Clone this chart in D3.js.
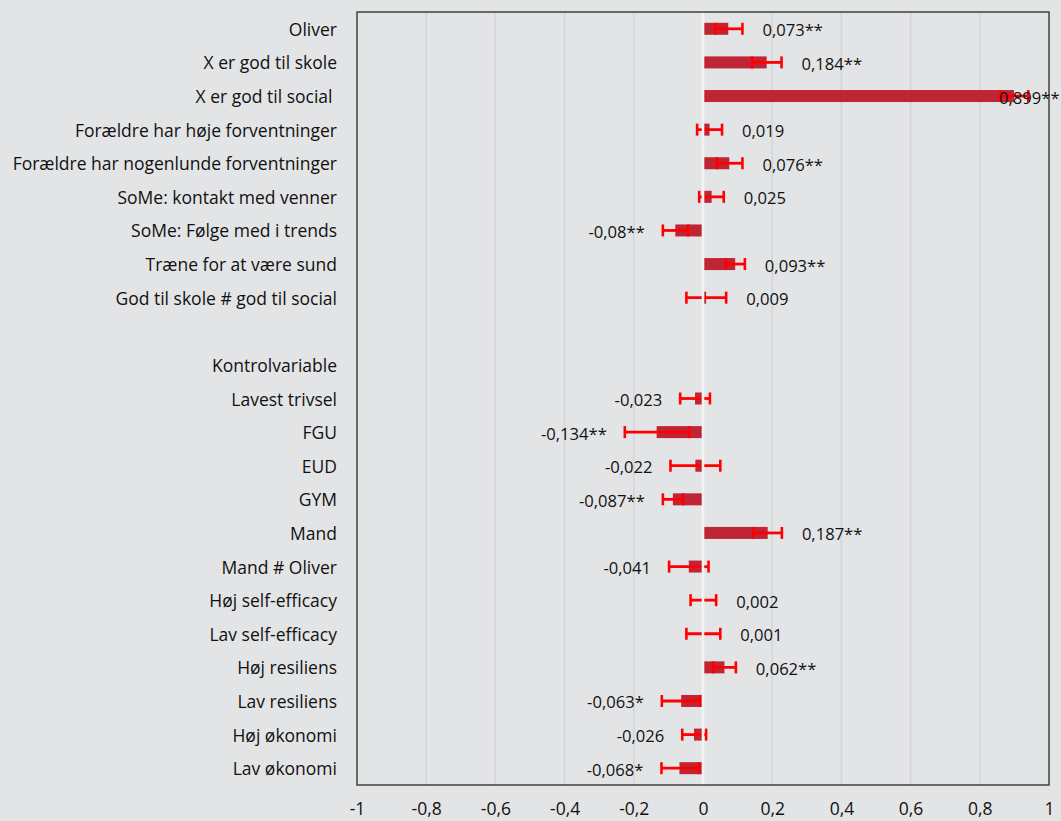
<!DOCTYPE html>
<html>
<head>
<meta charset="utf-8">
<script src="https://cdn.jsdelivr.net/npm/d3@7/dist/d3.min.js"></script>
<style>
  html, body { margin: 0; padding: 0; background: #E3E4E6; }
  svg { display: block; }
  text { font-family: "Open Sans", "Noto Sans", sans-serif; }
</style>
</head>
<body>
<svg id="chart" width="1061" height="821"></svg>
<script>
// Row labels (blank row and section header have no estimate)
const categories = [
  "Oliver",
  "X er god til skole",
  "X er god til social ",
  "Forældre har høje forventninger",
  "Forældre har nogenlunde forventninger",
  "SoMe: kontakt med venner",
  "SoMe: Følge med i trends",
  "Træne for at være sund",
  "God til skole # god til social",
  "",
  "Kontrolvariable",
  "Lavest trivsel",
  "FGU",
  "EUD",
  "GYM",
  "Mand",
  "Mand # Oliver",
  "Høj self-efficacy",
  "Lav self-efficacy",
  "Høj resiliens",
  "Lav resiliens",
  "Høj økonomi",
  "Lav økonomi"
];

// Point estimates
const coef = [0.073, 0.184, 0.899, 0.019, 0.076, 0.025, -0.08, 0.093, 0.009,
  null, null,
  -0.023, -0.134, -0.022, -0.087, 0.187, -0.041, 0.002, 0.001, 0.062, -0.063, -0.026, -0.068];

// Confidence interval bounds
const ciLow = [0.036, 0.142, 0.858, -0.017, 0.040, -0.011, -0.116, 0.066, -0.048,
  null, null,
  -0.066, -0.226, -0.094, -0.116, 0.145, -0.098, -0.036, -0.048, 0.029, -0.119, -0.060, -0.120];
const ciHigh = [0.114, 0.227, 0.940, 0.055, 0.114, 0.060, -0.043, 0.121, 0.067,
  null, null,
  0.020, -0.040, 0.050, -0.057, 0.228, 0.016, 0.038, 0.050, 0.095, -0.008, 0.009, -0.012];

// Significance markers
const stars = ["**", "**", "**", "", "**", "", "**", "**", "",
  "", "",
  "", "**", "", "**", "**", "", "", "", "**", "*", "", "*"];

// Axis ticks
const tickValues = [-1, -0.8, -0.6, -0.4, -0.2, 0, 0.2, 0.4, 0.6, 0.8, 1];

const rows = categories.map((c, i) => ({
  name: c, value: coef[i], lo: ciLow[i], hi: ciHigh[i], star: stars[i]
}));

const plot = { left: 357, right: 1049, top: 12, bottom: 785 };

const svg = d3.select("#chart");

const x = d3.scaleLinear().domain([-1, 1]).range([plot.left, plot.right]);
const y = d3.scaleBand().domain(d3.range(categories.length))
  .range([plot.top, plot.bottom]).paddingInner(0).paddingOuter(0);
const yc = i => y(i) + y.bandwidth() / 2;

const fmt = v => String(v).replace(".", ",");

// Vertical gridlines
svg.append("g").selectAll("line")
  .data(tickValues.filter(t => t !== -1 && t !== 1 && t !== 0))
  .join("line")
  .attr("x1", d => x(d)).attr("x2", d => x(d))
  .attr("y1", plot.top).attr("y2", plot.bottom)
  .attr("stroke", "#D3D4D6").attr("stroke-width", 1.5);

const data = rows.map((r, i) => ({ ...r, i })).filter(r => r.value !== null);

const barH = 12;

// Coefficient bars
svg.append("g").selectAll("rect")
  .data(data)
  .join("rect")
  .attr("x", d => Math.min(x(0), x(d.value)))
  .attr("width", d => Math.abs(x(d.value) - x(0)))
  .attr("y", d => yc(d.i) - barH / 2)
  .attr("height", barH)
  .attr("fill", "#BF1E2E")
  .attr("fill-opacity", 0.97);

// Error bars
const eb = svg.append("g").attr("stroke", "#FF0000");
eb.selectAll("line.whisker")
  .data(data)
  .join("line")
  .attr("class", "whisker")
  .attr("x1", d => x(d.lo)).attr("x2", d => x(d.hi))
  .attr("y1", d => yc(d.i)).attr("y2", d => yc(d.i))
  .attr("stroke-width", 2.8);
eb.selectAll("line.capl")
  .data(data)
  .join("line")
  .attr("class", "capl")
  .attr("x1", d => x(d.lo)).attr("x2", d => x(d.lo))
  .attr("y1", d => yc(d.i) - barH / 2).attr("y2", d => yc(d.i) + barH / 2)
  .attr("stroke-width", 2.6);
eb.selectAll("line.caph")
  .data(data)
  .join("line")
  .attr("class", "caph")
  .attr("x1", d => x(d.hi)).attr("x2", d => x(d.hi))
  .attr("y1", d => yc(d.i) - barH / 2).attr("y2", d => yc(d.i) + barH / 2)
  .attr("stroke-width", 2.6);

// Zero line
svg.append("line")
  .attr("x1", x(0)).attr("x2", x(0))
  .attr("y1", plot.top).attr("y2", plot.bottom)
  .attr("stroke", "#F3F3F4").attr("stroke-width", 2.6);

// Plot frame
svg.append("rect")
  .attr("x", plot.left).attr("y", plot.top)
  .attr("width", plot.right - plot.left).attr("height", plot.bottom - plot.top)
  .attr("fill", "none").attr("stroke", "#404040").attr("stroke-width", 1.5);

// Value labels (kept inside the drawing area at the right edge)
svg.append("g").selectAll("text")
  .data(data)
  .join("text")
  .attr("font-size", 16.6)
  .attr("fill", "#111")
  .attr("dominant-baseline", "central")
  .attr("y", d => yc(d.i) + 1)
  .attr("text-anchor", d => d.value >= 0 ? "start" : "end")
  .attr("x", d => d.value >= 0 ? Math.min(x(d.hi) + 20, plot.right - 50) : x(d.lo) - 18)
  .text(d => fmt(d.value) + d.star);

// Category labels
svg.append("g").selectAll("text")
  .data(rows.map((r, i) => ({ ...r, i })))
  .join("text")
  .attr("font-size", 17.5)
  .attr("fill", "#111")
  .attr("text-anchor", "end")
  .attr("dominant-baseline", "central")
  .attr("x", 337)
  .attr("y", d => yc(d.i))
  .style("white-space", "pre")
  .text(d => d.name);

// Bottom axis tick labels
const axis = d3.axisBottom(x).tickValues(tickValues).tickSize(0).tickPadding(0)
  .tickFormat(d => fmt(d));
const ag = svg.append("g").attr("transform", `translate(0,${plot.bottom})`).call(axis);
ag.select(".domain").remove();
ag.selectAll("text")
  .attr("font-size", 17.5)
  .attr("font-family", "Open Sans, Noto Sans, sans-serif")
  .attr("fill", "#111")
  .attr("dy", null)
  .attr("y", 23)
  .attr("dominant-baseline", "central");
</script>
</body>
</html>
